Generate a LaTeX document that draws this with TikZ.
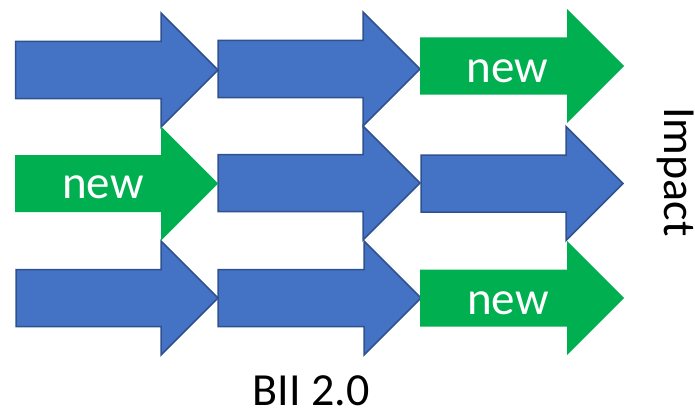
\documentclass[tikz,border=0pt]{standalone}
\usepackage{fontspec}
\setmainfont{Carlito}
\usetikzlibrary{calc}

\definecolor{arrowblue}{HTML}{4472C4}
\definecolor{arrowedge}{HTML}{2F528F}
\definecolor{arrowgreen}{HTML}{00B050}

\tikzset{
  bluearrow/.style={fill=arrowblue, draw=arrowedge, line width=1.5pt, line join=miter},
  greenarrow/.style={fill=arrowgreen},
  newlabel/.style={text=white, inner sep=0pt, font=\fontsize{47}{56}\selectfont},
  sidelabel/.style={text=black, inner sep=0pt, font=\fontsize{46}{55}\selectfont},
}

% block arrow: style, left x, centre y, tip x, name
\newcommand\blockarrow[5]{%
  \path[#1] (#2,#3-28.5) -- (#4-57,#3-28.5) -- (#4-57,#3-57) -- (#4,#3)
    -- (#4-57,#3+57) -- (#4-57,#3+28.5) -- (#2,#3+28.5) -- cycle;
  \coordinate (#5) at (#2,#3);
}

\begin{document}
\begin{tikzpicture}[x=1pt, y=-1pt]
  \useasboundingbox (0,0) rectangle (695,412);

  % row 1
  \blockarrow{bluearrow}{15.5}{70}{218}{a11}
  \blockarrow{bluearrow}{218}{69}{420}{a12}
  \blockarrow{greenarrow}{420}{66}{624}{a13}
  % row 2
  \blockarrow{bluearrow}{218}{183}{420}{a22}
  \blockarrow{bluearrow}{421}{183.5}{623}{a23}
  \blockarrow{greenarrow}{15}{183.5}{218}{a21}
  % row 3
  \blockarrow{bluearrow}{16}{298}{218}{a31}
  \blockarrow{bluearrow}{218}{298}{421}{a32}
  \blockarrow{greenarrow}{420}{298}{624}{a33}

  % labels on the new arrows
  \node[newlabel] (n13) at (507.5,71) {new};
  \node[newlabel] (n21) at (103,187.5) {new};
  \node[newlabel] (n33) at (508,303) {new};

  % axis captions
  \node[sidelabel, anchor=base] (bii) at (311,405) {BII 2.0};
  \node[sidelabel, anchor=base, rotate=-90] (impact) at (664,172) {Impact};
\end{tikzpicture}
\end{document}
